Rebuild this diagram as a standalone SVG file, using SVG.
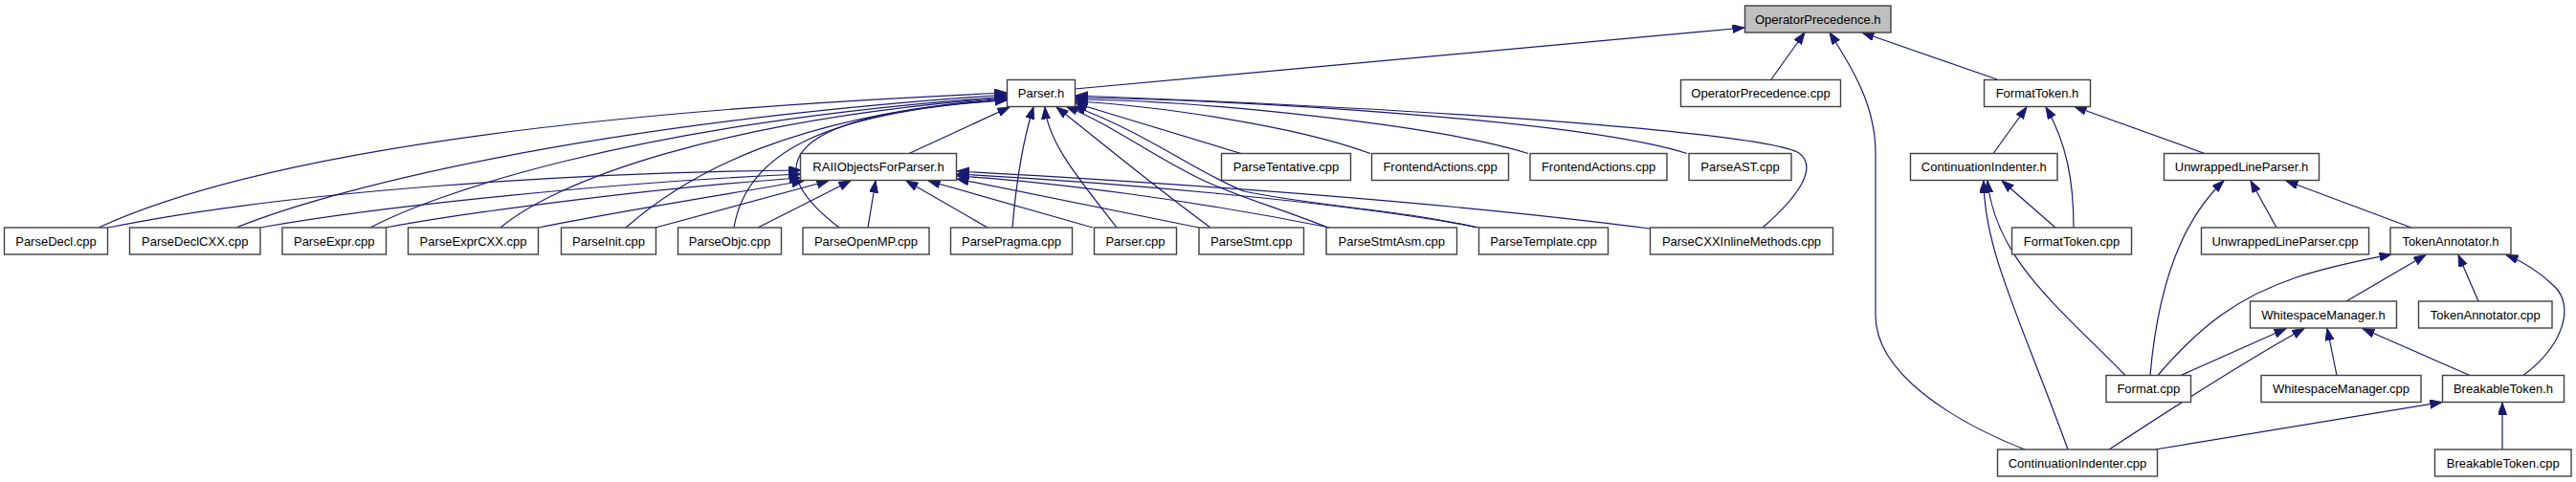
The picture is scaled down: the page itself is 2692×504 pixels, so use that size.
<svg xmlns="http://www.w3.org/2000/svg" width="2692" height="504" viewBox="0 0 2692 504">
<style>
.n rect{fill:#fff;stroke:#404040;stroke-width:1.4}
.n.g rect{fill:#bfbfbf}
.n text{font-family:"Liberation Sans",Arial,Helvetica,sans-serif;font-size:13px;fill:#000;text-anchor:middle}
.e path{fill:none;stroke:#191970;stroke-width:1.2;marker-end:url(#a)}
</style>
<defs>
<marker id="a" markerUnits="userSpaceOnUse" markerWidth="13" markerHeight="10" refX="12.5" refY="4.5" orient="auto">
<path d="M0,0 L12.5,4.5 L0,9 z" fill="#191970" stroke="#191970" stroke-width="1"/>
</marker>
</defs>
<rect width="2692" height="504" fill="#fff"/>
<g id="edges" class="e">
<path d="M1123,93 L1823,29"/>
<path d="M1851,83 L1886,34"/>
<path d="M2116,470 C2040,440 1960,390 1960,330 L1960,160 C1960,110 1935,70 1912,34"/>
<path d="M2087,83 L1946,34"/>
<path d="M103,238 C240,175 520,120 1052,97"/>
<path d="M247,238 C340,200 600,130 1052,99"/>
<path d="M387,238 C450,205 650,130 1052,101"/>
<path d="M523,238 C580,190 750,125 1052,102"/>
<path d="M654,238 C720,180 830,120 1052,103"/>
<path d="M767,238 C780,160 860,118 1052,104"/>
<path d="M877,238 C800,180 800,120 1052,105"/>
<path d="M950,160.5 L1055,112"/>
<path d="M1058,238 C1062,190 1068,150 1080,112"/>
<path d="M1167,238 C1130,190 1095,150 1092,112"/>
<path d="M1265,238 C1200,190 1140,140 1104,112"/>
<path d="M1388,238 C1330,215 1290,205 1250,185 C1200,160 1160,130 1114,111"/>
<path d="M1543,238 C1470,220 1370,215 1300,200 C1250,180 1200,140 1122,111"/>
<path d="M1297,160.5 L1124,108"/>
<path d="M1432,160.5 C1350,130 1200,110 1124,106"/>
<path d="M1597,160.5 C1500,130 1250,105 1124,104"/>
<path d="M1763,160.5 C1650,125 1300,105 1124,102"/>
<path d="M1842,238 C1880,205 1900,175 1880,160 C1850,143 1600,118 1124,100"/>
<path d="M113,238 C300,200 600,180 837,178"/>
<path d="M272,238 C400,215 650,190 837,182"/>
<path d="M403,238 C500,220 700,195 837,186"/>
<path d="M563,238 C650,220 780,200 840,189"/>
<path d="M685,238 L866,189"/>
<path d="M792,238 L889,189"/>
<path d="M907,238 L915,189"/>
<path d="M1032,238 L947,189"/>
<path d="M1142,238 L970,189"/>
<path d="M1253,238 L1000,187"/>
<path d="M1390,238 C1250,210 1100,190 1000,184"/>
<path d="M1546,238 C1400,210 1150,190 1000,182"/>
<path d="M1724,239 C1500,210 1200,190 1000,179"/>
<path d="M2083,160.5 L2118,112"/>
<path d="M2167,238 C2167,190 2160,150 2138,112"/>
<path d="M2304,160.5 L2168,111.5"/>
<path d="M2148,238 L2092,189"/>
<path d="M2161,470 C2110,330 2073,260 2073,189"/>
<path d="M2221,392.5 C2150,320 2085,270 2077,189"/>
<path d="M2247,392.5 C2255,300 2280,230 2324,189"/>
<path d="M2379,238 L2352,189"/>
<path d="M2520,238 L2389,189"/>
<path d="M2255,392.5 C2300,340 2340,310 2400,290 C2440,277 2470,272 2499,266"/>
<path d="M2452,315 L2535,266.5"/>
<path d="M2590,315 L2569,266.5"/>
<path d="M2637,392.5 C2680,360 2690,320 2670,300 C2655,285 2640,275 2619,266.5"/>
<path d="M2279,392.5 L2389,343.5"/>
<path d="M2204,470 C2280,420 2360,370 2408,343.5"/>
<path d="M2442,392.5 L2432,343.5"/>
<path d="M2581,392.5 L2469,343.5"/>
<path d="M2252,470 L2552,420.5"/>
<path d="M2615,470 L2615,421"/>
</g>
<g id="n_OperatorPrecedence_h" class="n g"><rect x="1823.5" y="6" width="152.5" height="28"/><text x="1899.75" y="24.5">OperatorPrecedence.h</text></g>
<g id="n_Parser_h" class="n"><rect x="1052.5" y="83.5" width="71" height="28"/><text x="1088" y="102">Parser.h</text></g>
<g id="n_OperatorPrecedence_cpp" class="n"><rect x="1756.5" y="83.5" width="167" height="28"/><text x="1840" y="102">OperatorPrecedence.cpp</text></g>
<g id="n_FormatToken_h" class="n"><rect x="2073.5" y="83.5" width="111" height="28"/><text x="2129" y="102">FormatToken.h</text></g>
<g id="n_RAIIObjectsForParser_h" class="n"><rect x="836.5" y="160.5" width="163" height="28"/><text x="918" y="179">RAIIObjectsForParser.h</text></g>
<g id="n_ParseTentative_cpp" class="n"><rect x="1276.5" y="160.5" width="135" height="28"/><text x="1344" y="179">ParseTentative.cpp</text></g>
<g id="n_FrontendActions_cpp_1" class="n"><rect x="1433.5" y="160.5" width="143" height="28"/><text x="1505" y="179">FrontendActions.cpp</text></g>
<g id="n_FrontendActions_cpp_2" class="n"><rect x="1599" y="160.5" width="143" height="28"/><text x="1670.5" y="179">FrontendActions.cpp</text></g>
<g id="n_ParseAST_cpp" class="n"><rect x="1765" y="160.5" width="107" height="28"/><text x="1818.5" y="179">ParseAST.cpp</text></g>
<g id="n_ContinuationIndenter_h" class="n"><rect x="1996.5" y="160.5" width="153.5" height="28"/><text x="2073.25" y="179">ContinuationIndenter.h</text></g>
<g id="n_UnwrappedLineParser_h" class="n"><rect x="2261.5" y="160.5" width="162" height="28"/><text x="2342.5" y="179">UnwrappedLineParser.h</text></g>
<g id="n_ParseDecl_cpp" class="n"><rect x="4.5" y="238" width="108" height="28"/><text x="58.5" y="256.5">ParseDecl.cpp</text></g>
<g id="n_ParseDeclCXX_cpp" class="n"><rect x="135.5" y="238" width="136.5" height="28"/><text x="203.75" y="256.5">ParseDeclCXX.cpp</text></g>
<g id="n_ParseExpr_cpp" class="n"><rect x="295" y="238" width="108.5" height="28"/><text x="349.25" y="256.5">ParseExpr.cpp</text></g>
<g id="n_ParseExprCXX_cpp" class="n"><rect x="426.5" y="238" width="136" height="28"/><text x="494.5" y="256.5">ParseExprCXX.cpp</text></g>
<g id="n_ParseInit_cpp" class="n"><rect x="586.5" y="238" width="99" height="28"/><text x="636" y="256.5">ParseInit.cpp</text></g>
<g id="n_ParseObjc_cpp" class="n"><rect x="708.5" y="238" width="108" height="28"/><text x="762.5" y="256.5">ParseObjc.cpp</text></g>
<g id="n_ParseOpenMP_cpp" class="n"><rect x="839" y="238" width="132" height="28"/><text x="905" y="256.5">ParseOpenMP.cpp</text></g>
<g id="n_ParsePragma_cpp" class="n"><rect x="993.5" y="238" width="127" height="28"/><text x="1057" y="256.5">ParsePragma.cpp</text></g>
<g id="n_Parser_cpp" class="n"><rect x="1143.5" y="238" width="86" height="28"/><text x="1186.5" y="256.5">Parser.cpp</text></g>
<g id="n_ParseStmt_cpp" class="n"><rect x="1253" y="238" width="109.5" height="28"/><text x="1307.75" y="256.5">ParseStmt.cpp</text></g>
<g id="n_ParseStmtAsm_cpp" class="n"><rect x="1386" y="238" width="136.5" height="28"/><text x="1454.25" y="256.5">ParseStmtAsm.cpp</text></g>
<g id="n_ParseTemplate_cpp" class="n"><rect x="1545.5" y="238" width="135" height="28"/><text x="1613" y="256.5">ParseTemplate.cpp</text></g>
<g id="n_ParseCXXInlineMethods_cpp" class="n"><rect x="1724.5" y="238" width="191" height="28"/><text x="1820" y="256.5">ParseCXXInlineMethods.cpp</text></g>
<g id="n_FormatToken_cpp" class="n"><rect x="2102.5" y="238" width="125" height="28"/><text x="2165" y="256.5">FormatToken.cpp</text></g>
<g id="n_UnwrappedLineParser_cpp" class="n"><rect x="2300.5" y="238" width="175" height="28"/><text x="2388" y="256.5">UnwrappedLineParser.cpp</text></g>
<g id="n_TokenAnnotator_h" class="n"><rect x="2498" y="238" width="126" height="28"/><text x="2561" y="256.5">TokenAnnotator.h</text></g>
<g id="n_WhitespaceManager_h" class="n"><rect x="2351.5" y="315" width="153" height="28"/><text x="2428" y="333.5">WhitespaceManager.h</text></g>
<g id="n_TokenAnnotator_cpp" class="n"><rect x="2527.5" y="315" width="139.5" height="28"/><text x="2597.25" y="333.5">TokenAnnotator.cpp</text></g>
<g id="n_Format_cpp" class="n"><rect x="2201" y="392.5" width="88.5" height="28"/><text x="2245.25" y="411">Format.cpp</text></g>
<g id="n_WhitespaceManager_cpp" class="n"><rect x="2363" y="392.5" width="167" height="28"/><text x="2446.5" y="411">WhitespaceManager.cpp</text></g>
<g id="n_BreakableToken_h" class="n"><rect x="2552.5" y="392.5" width="127" height="28"/><text x="2616" y="411">BreakableToken.h</text></g>
<g id="n_ContinuationIndenter_cpp" class="n"><rect x="2087.5" y="470" width="167" height="28"/><text x="2171" y="488.5">ContinuationIndenter.cpp</text></g>
<g id="n_BreakableToken_cpp" class="n"><rect x="2544.5" y="470" width="142.5" height="28"/><text x="2615.75" y="488.5">BreakableToken.cpp</text></g>
</svg>
